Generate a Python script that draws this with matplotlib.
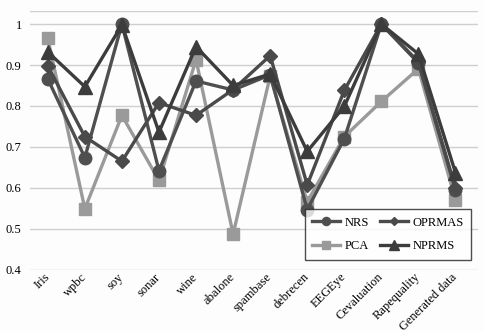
import matplotlib
matplotlib.use("Agg")
import matplotlib.pyplot as plt
import matplotlib.transforms as mtransforms

datasets = ["Iris", "wpbc", "soy", "sonar", "wine", "abalone", "spambase",
            "debrecen", "EEGEye", "Cevaluation", "Rapequality", "Generated data"]
nrs = [0.866, 0.674, 1.0, 0.642, 0.861, 0.839, 0.876, 0.547, 0.720, 1.0, 0.905, 0.595]
oprmas = [0.898, 0.725, 0.665, 0.808, 0.777, 0.840, 0.923, 0.607, 0.838, 1.0, 0.908, 0.600]
pca = [0.965, 0.549, 0.777, 0.618, 0.913, 0.487, 0.873, 0.566, 0.725, 0.811, 0.891, 0.571]
nprms = [0.932, 0.847, 0.998, 0.736, 0.945, 0.850, 0.878, 0.689, 0.799, 1.0, 0.927, 0.637]
yticks = [0.4, 0.5, 0.6, 0.7, 0.8, 0.9, 1.0]
ytick_labels = ["0.4", "0.5", "0.6", "0.7", "0.8", "0.9", "1"]

plt.rcParams['font.family'] = ['Liberation Serif', 'DejaVu Serif']

fig = plt.figure(figsize=(4.84, 3.33), dpi=100)
fig.patch.set_facecolor("#fdfdfd")
ax = fig.add_axes([0.062, 0.19, 0.925, 0.777])
ax.set_facecolor("#fdfdfd")

x = list(range(len(datasets)))
l_nrs, = ax.plot(x, nrs, color="#4f4f4f", lw=2.4, marker="o", ms=9, label="NRS", zorder=3)
l_opr, = ax.plot(x, oprmas, color="#4a4a4a", lw=2.4, marker="D", ms=7, label="OPRMAS", zorder=3)
l_pca, = ax.plot(x, pca, color="#9a9a9a", lw=2.4, marker="s", ms=9, label="PCA", zorder=2)
l_npr, = ax.plot(x, nprms, color="#3c3c3c", lw=2.4, marker="^", ms=10, label="NPRMS", zorder=4)

ax.set_xlim(-0.48, 11.6)
ax.set_ylim(0.4, 1.032)
ax.set_yticks(yticks)
ax.set_yticklabels(ytick_labels, fontsize=9)
ax.set_xticks(x)
ax.set_xticklabels(datasets, rotation=45, ha="right", va="center",
                   rotation_mode="anchor", fontsize=9)
shift = mtransforms.ScaledTranslation(7 / 100, 5 / 100, fig.dpi_scale_trans)
for lab in ax.get_xticklabels():
    lab.set_transform(lab.get_transform() + shift)
ax.tick_params(axis="x", length=0, pad=4)
ax.tick_params(axis="y", length=0, pad=6)
ax.grid(axis="y", color="#cfcfcf", lw=1)
ax.axhline(1.032, color="#cfcfcf", lw=1)
for s in ax.spines.values():
    s.set_visible(False)
ax.set_axisbelow(True)

# legend rows: NRS / OPRMAS, then PCA / NPRMS
leg = ax.legend([l_nrs, l_pca, l_opr, l_npr], ["NRS", "PCA", "OPRMAS", "NPRMS"],
                ncol=2, loc="lower right", bbox_to_anchor=(1.0, 0.015), fontsize=9,
                frameon=True, fancybox=False, edgecolor="#222222", handlelength=2.2,
                markerscale=0.65, columnspacing=0.9, borderpad=0.6, labelspacing=0.9,
                handletextpad=0.4)
leg.get_frame().set_linewidth(1.0)

plt.savefig("out.png", dpi=100, facecolor=fig.get_facecolor())
